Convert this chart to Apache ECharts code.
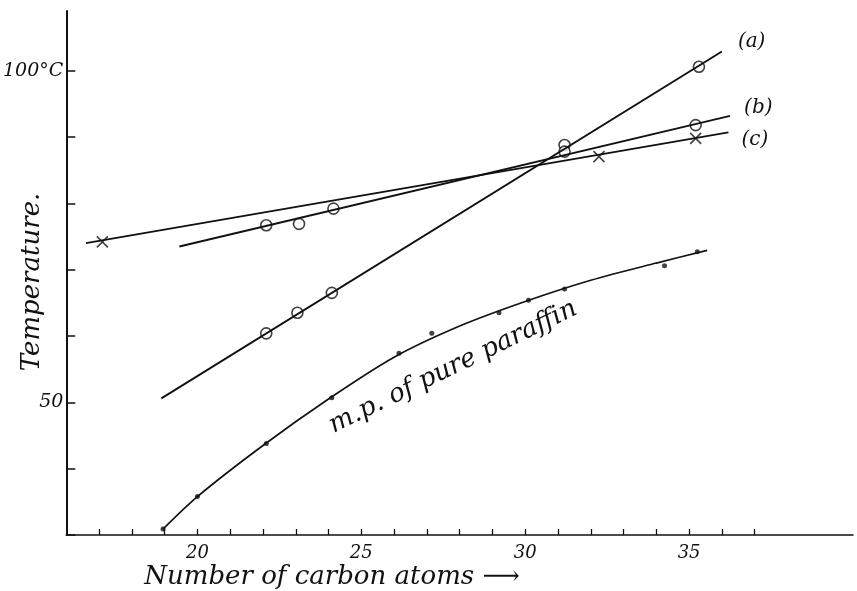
<!DOCTYPE html>
<html><head><meta charset="utf-8">
<script src="https://cdn.jsdelivr.net/npm/echarts@6/dist/echarts.min.js"></script>
<style>html,body{margin:0;padding:0;background:#fff}#c{width:857px;height:591px}</style>
</head><body><div id="c"></div>
<script>
// ---- data ----
const xTicks = [17,18,19,20,21,22,23,24,25,26,27,28,29,30,31,32,33,34,35,36,37];
const xLabels = [20,25,30,35];
const yTicks = [30,40,50,60,70,80,90,100];
const yLabels = [50,100];

const lineA = [[18.9,50.6],[36.0,102.9]];
const pointsA = [[22.1,60.4],[23.05,63.5],[24.1,66.5],[31.2,88.8],[35.3,100.6]];
const lineB = [[19.45,73.5],[36.25,93.2]];
const pointsB = [[22.1,76.7],[23.1,76.9],[24.15,79.2],[31.2,87.8],[35.2,91.8]];
const lineC = [[16.6,74.0],[36.2,90.7]];
const pointsC = [[17.1,74.2],[32.25,87.05],[35.2,89.8]];
const paraffinPoints = [[18.95,30.9],[20.0,35.8],[22.1,43.8],[24.1,50.7],[26.15,57.4],[27.15,60.4],[29.2,63.5],[30.1,65.4],[31.2,67.1],[34.25,70.6],[35.25,72.7]];
const paraffinCurve = [[18.95,30.9],[20,35.8],[22,43.5],[24,50.5],[26,56.8],[28,61.5],[30,65.2],[32,68.4],[34,71.0],[35.55,72.9]];

const FONT = 'DejaVu Serif';
const ink = '#111';
const chart = echarts.init(document.getElementById('c'));

function lineSeries(data, label, offset){
  return {type:'line', data, symbol:'none', silent:true, animation:false,
    lineStyle:{color:ink, width:1.9},
    endLabel:{show:true, formatter:label, offset, color:ink, fontFamily:FONT, fontStyle:'italic', fontSize:20}};
}
const circle = {type:'scatter', symbol:'circle', symbolSize:11, animation:false,
  itemStyle:{color:'#fff', borderColor:ink, borderWidth:1.6}};
const cross = {type:'scatter', symbol:'path://M0,0L10,10M10,0L0,10', symbolSize:11, animation:false,
  itemStyle:{color:'none', borderColor:ink, borderWidth:1.6}};

chart.setOption({
  backgroundColor:'#fff',
  animation:false,
  grid:{left:61, right:4, top:11, bottom:56},
  xAxis:{type:'value', min:16, max:40, interval:1,
    splitLine:{show:false},
    axisLine:{lineStyle:{color:ink, width:1.6}},
    axisTick:{inside:true, length:6, customValues:xTicks, lineStyle:{color:ink, width:1.3}},
    axisLabel:{customValues:xLabels, color:ink, fontFamily:FONT, fontStyle:'italic', fontSize:18, margin:9}},
  yAxis:{type:'value', min:30, max:109, interval:10,
    splitLine:{show:false},
    axisLine:{lineStyle:{color:ink, width:2}},
    axisTick:{inside:true, length:9, customValues:yTicks, lineStyle:{color:ink, width:1.5}},
    axisLabel:{customValues:yLabels, color:ink, fontFamily:FONT, fontStyle:'italic', fontSize:19, margin:3,
      formatter:v => v===100 ? '100°C' : String(v)}},
  series:[
    lineSeries(lineA,'(a)',[8,-10]),
    lineSeries(lineB,'(b)',[6,-8]),
    lineSeries(lineC,'(c)',[5,7]),
    Object.assign({data:pointsA}, circle),
    Object.assign({data:pointsB}, circle),
    Object.assign({data:pointsC}, cross),
    {type:'line', data:paraffinCurve, smooth:0.3, symbol:'none', lineStyle:{color:ink, width:1.7}},
    {type:'scatter', data:paraffinPoints, symbol:'circle', symbolSize:5, itemStyle:{color:ink}}
  ]
});

const tp = chart.convertToPixel({gridIndex:0}, [27.8, 55.3]);
chart.setOption({graphic:[
  {type:'text', x:tp[0], y:tp[1], rotation:26*Math.PI/180,
    style:{text:'m.p. of pure paraffin', fill:ink, font:'italic 26px "'+FONT+'"', align:'center', verticalAlign:'middle'}},
  {type:'text', x:332, y:577,
    style:{text:'Number of carbon atoms ⟶', fill:ink, font:'italic 26px "'+FONT+'"', align:'center', verticalAlign:'middle'}},
  {type:'text', x:32, y:282, rotation:Math.PI/2,
    style:{text:'Temperature.', fill:ink, font:'italic 26px "'+FONT+'"', align:'center', verticalAlign:'middle'}}
]});
</script></body></html>
